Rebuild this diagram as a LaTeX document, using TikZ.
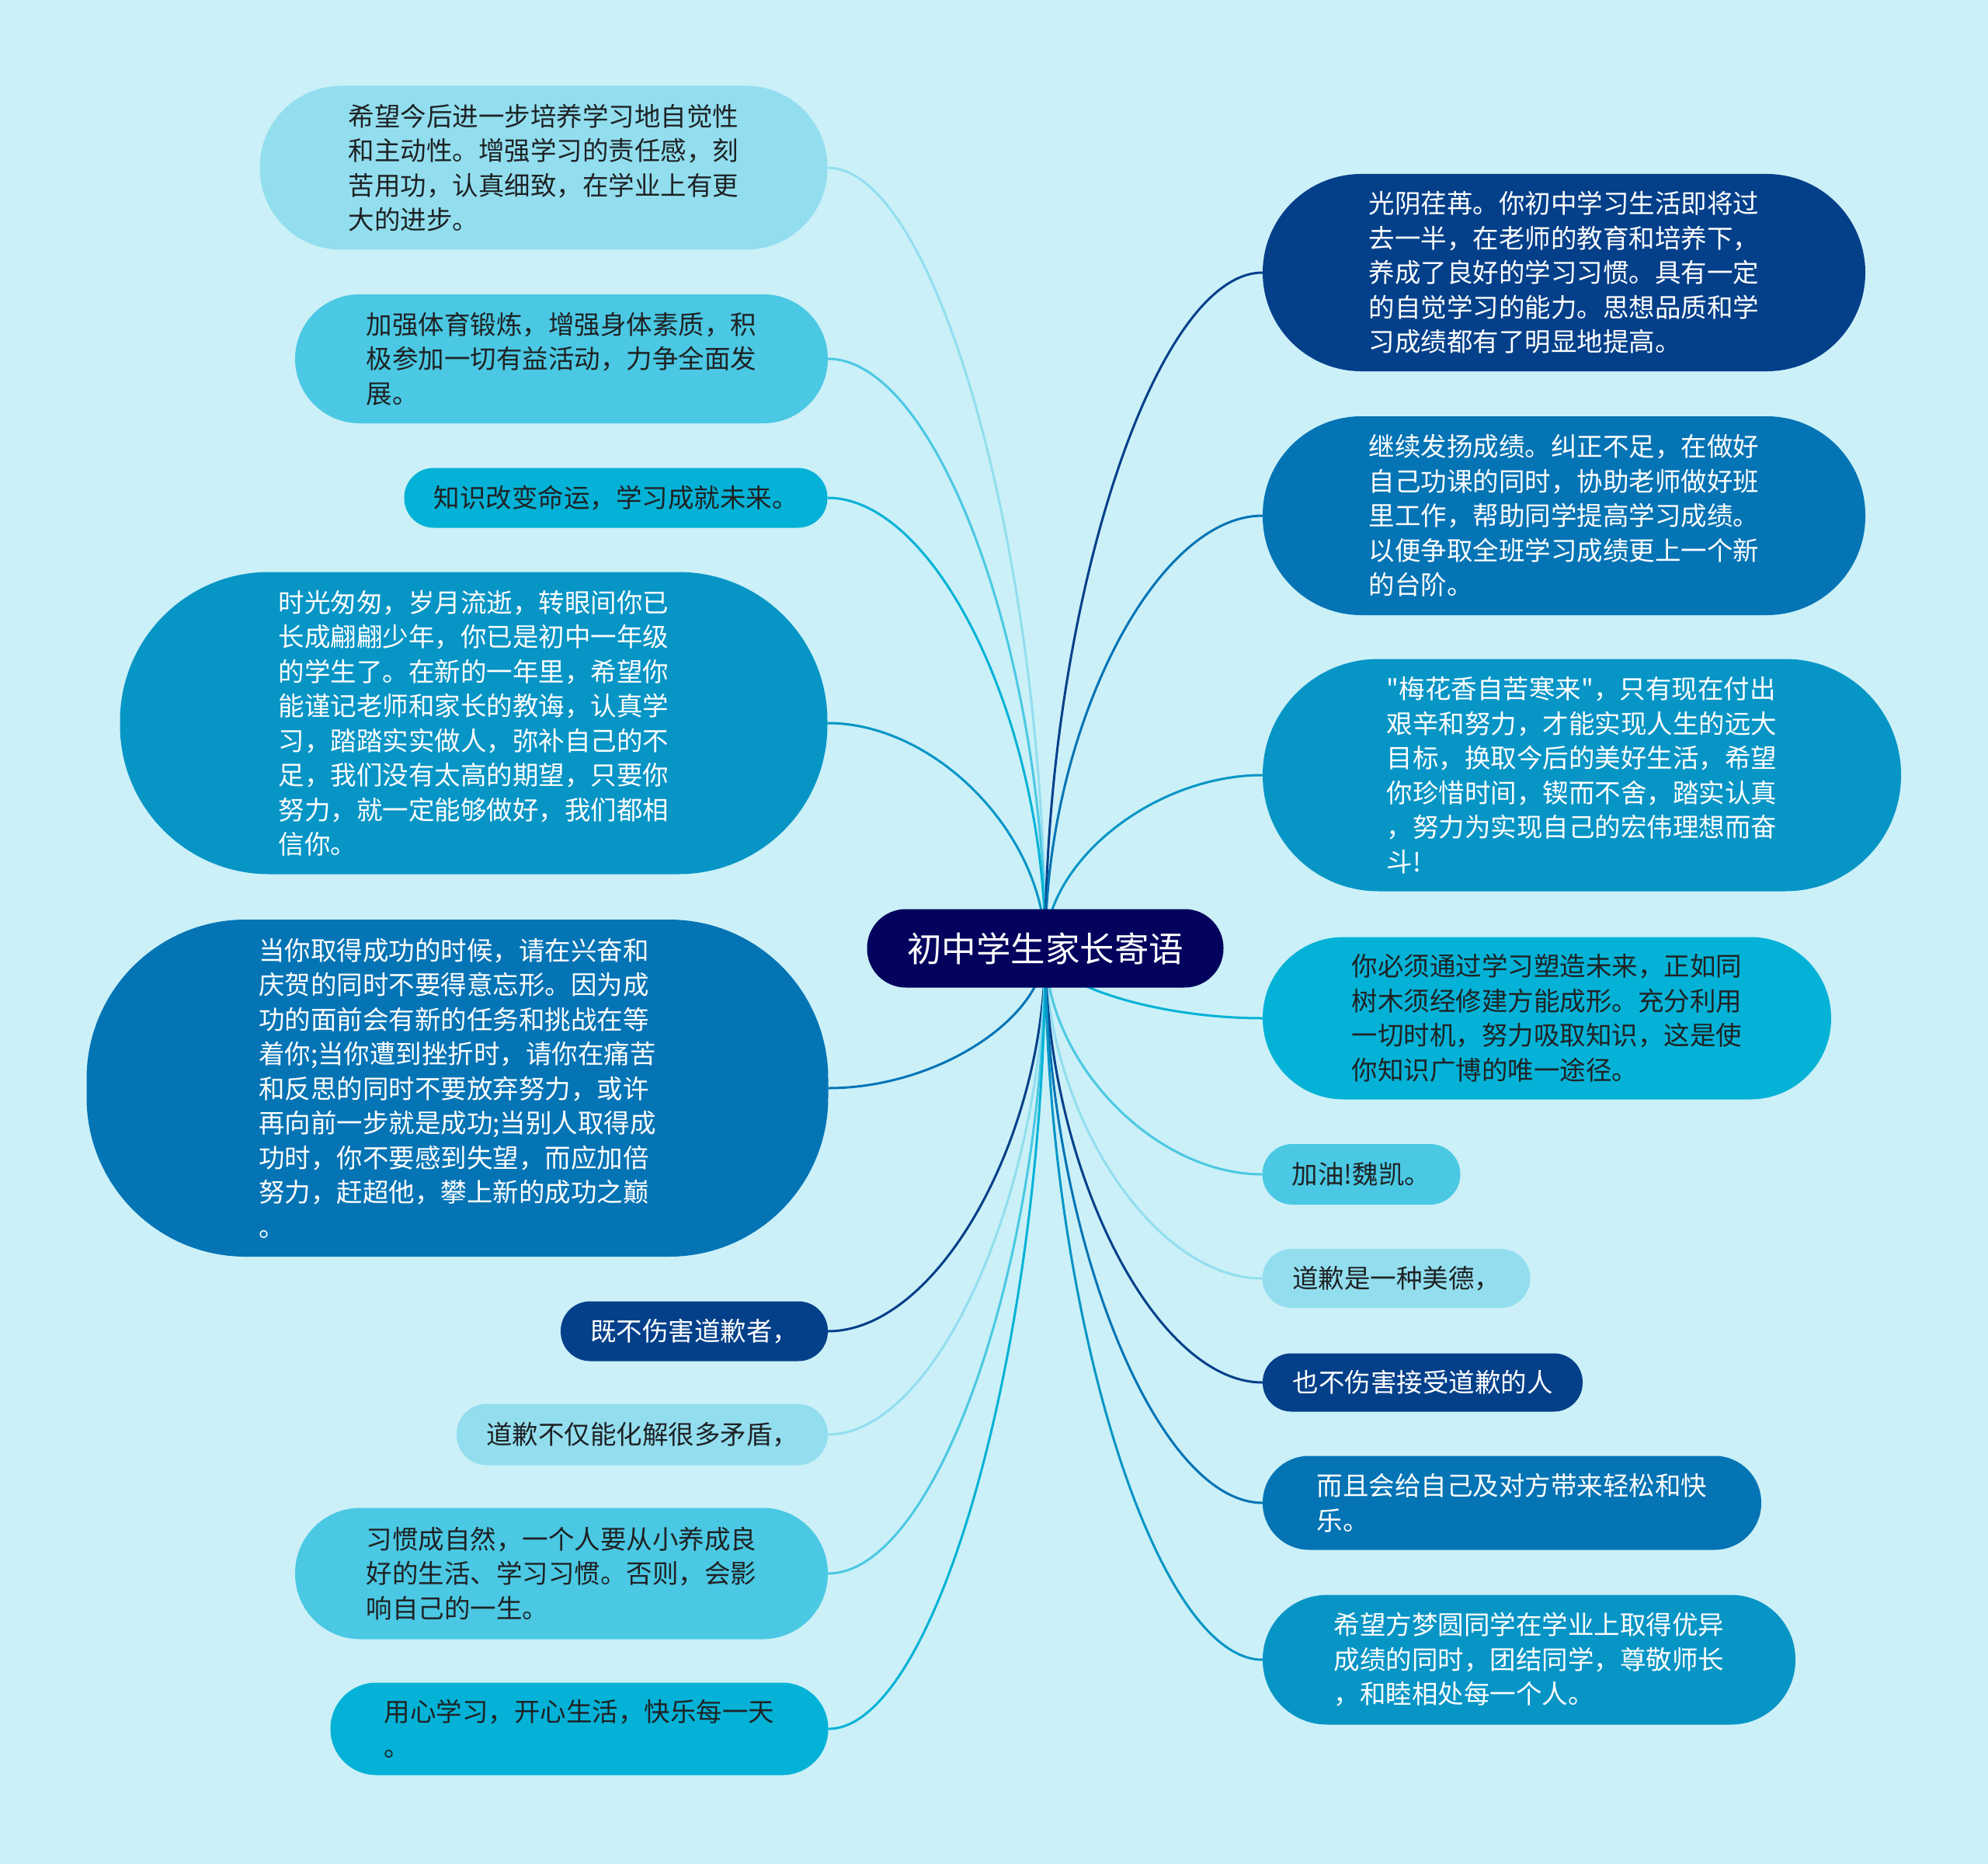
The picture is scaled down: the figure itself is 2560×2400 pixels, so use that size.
\documentclass[tikz,border=0pt]{standalone}
\usepackage{fontspec}
\setmainfont{Noto Sans CJK SC}[Ligatures=TeXOff]
\usetikzlibrary{backgrounds,calc}
\definecolor{bg}{RGB}{203,240,248}
\definecolor{c0}{RGB}{3,3,94}
\definecolor{cA}{RGB}{4,64,138}
\definecolor{cB}{RGB}{4,116,181}
\definecolor{cC}{RGB}{7,149,198}
\definecolor{cD}{RGB}{3,178,214}
\definecolor{cE}{RGB}{75,200,227}
\definecolor{cF}{RGB}{146,222,239}
\definecolor{tdark}{RGB}{30,34,36}
\newcommand\mmfont{\fontsize{33.5pt}{44.5pt}\selectfont}
\newcommand\mmconn[2]{\draw[line width=3pt,#1] let \p1=(c.center), \p2=(#2) in (\p1) .. controls (\x1,{0.5*(\y1)+0.5*(\y2)}) and ({0.5*(\x1)+0.5*(\x2)},\y2) .. (\p2);}
\begin{document}
\begin{tikzpicture}[x=1pt,y=1pt,
  box/.style={rectangle, inner sep=0pt, align=left, font=\mmfont},
  pill/.style n args={3}{minimum width=#1pt, minimum height=#2pt, rounded corners=#3pt},
  lt/.style={text=tdark},
  dk/.style={text=white}]
\useasboundingbox (0,0) rectangle (2560,-2400);
% center
\node[box, fill=c0, text=white, font=\fontsize{44.5pt}{50pt}\selectfont, pill={459}{101}{50}] (c) at (1346,-1221) {初中学生家长寄语};
% left
\node[box, fill=cF, lt, pill={731}{211}{105}] (l1) at (700,-216) {希望今后进一步培养学习地自觉性\\和主动性。增强学习的责任感，刻\\苦用功，认真细致，在学业上有更\\大的进步。};
\node[box, fill=cE, lt, pill={686}{166}{83}] (l2) at (723,-462) {加强体育锻炼，增强身体素质，积\\极参加一切有益活动，力争全面发\\展。};
\node[box, fill=cD, lt, pill={545}{77}{38}] (l3) at (793,-641) {知识改变命运，学习成就未来。};
\node[box, fill=cC, dk, pill={911}{389}{192}] (l4) at (610,-931) {时光匆匆，岁月流逝，转眼间你已\\长成翩翩少年，你已是初中一年级\\的学生了。在新的一年里，希望你\\能谨记老师和家长的教诲，认真学\\习，踏踏实实做人，弥补自己的不\\足，我们没有太高的期望，只要你\\努力，就一定能够做好，我们都相\\信你。};
\node[box, fill=cB, dk, pill={955}{434}{205}] (l5) at (589,-1401) {当你取得成功的时候，请在兴奋和\\庆贺的同时不要得意忘形。因为成\\功的面前会有新的任务和挑战在等\\着你;当你遭到挫折时，请你在痛苦\\和反思的同时不要放弃努力，或许\\再向前一步就是成功;当别人取得成\\功时，你不要感到失望，而应加倍\\努力，赶超他，攀上新的成功之巅\\。};
\node[box, fill=cA, dk, pill={344}{77}{38}] (l6) at (894,-1714) {既不伤害道歉者，};
\node[box, fill=cF, lt, pill={478}{79}{39}] (l7) at (827,-1847) {道歉不仅能化解很多矛盾，};
\node[box, fill=cE, lt, pill={686}{169}{84}] (l8) at (723,-2026) {习惯成自然，一个人要从小养成良\\好的生活、学习习惯。否则，会影\\响自己的一生。};
\node[box, fill=cD, lt, pill={641}{119}{59}] (l9) at (746,-2226) {用心学习，开心生活，快乐每一天\\。};
% right
\node[box, fill=cA, dk, pill={776}{254}{127}] (r1) at (2014,-351) {光阴荏苒。你初中学习生活即将过\\去一半，在老师的教育和培养下，\\养成了良好的学习习惯。具有一定\\的自觉学习的能力。思想品质和学\\习成绩都有了明显地提高。};
\node[box, fill=cB, dk, pill={776}{256}{127}] (r2) at (2014,-664) {继续发扬成绩。纠正不足，在做好\\自己功课的同时，协助老师做好班\\里工作，帮助同学提高学习成绩。\\以便争取全班学习成绩更上一个新\\的台阶。};
\node[box, fill=cC, dk, pill={822}{299}{149}] (r3) at (2037,-998) {"梅花香自苦寒来"，只有现在付出\\艰辛和努力，才能实现人生的远大\\目标，换取今后的美好生活，希望\\你珍惜时间，锲而不舍，踏实认真\\，努力为实现自己的宏伟理想而奋\\斗!};
\node[box, fill=cD, lt, pill={732}{209}{104}] (r4) at (1992,-1311) {你必须通过学习塑造未来，正如同\\树木须经修建方能成形。充分利用\\一切时机，努力吸取知识，这是使\\你知识广博的唯一途径。};
\node[box, fill=cE, lt, pill={255}{78}{39}] (r5) at (1753,-1512) {加油!魏凯。};
\node[box, fill=cF, lt, pill={345}{76}{38}] (r6) at (1798,-1646) {道歉是一种美德，};
\node[box, fill=cA, dk, pill={412}{75}{37}] (r7) at (1832,-1780) {也不伤害接受道歉的人};
\node[box, fill=cB, dk, pill={642}{121}{60}] (r8) at (1947,-1935) {而且会给自己及对方带来轻松和快\\乐。};
\node[box, fill=cC, dk, pill={686}{167}{83}] (r9) at (1969,-2137) {希望方梦圆同学在学业上取得优异\\成绩的同时，团结同学，尊敬师长\\，和睦相处每一个人。};
\begin{scope}[on background layer]
\fill[bg] (0,0) rectangle (2560,-2400);
\mmconn{cF}{l1.east}
\mmconn{cE}{l2.east}
\mmconn{cD}{l3.east}
\mmconn{cC}{l4.east}
\mmconn{cB}{l5.east}
\mmconn{cA}{l6.east}
\mmconn{cF}{l7.east}
\mmconn{cE}{l8.east}
\mmconn{cD}{l9.east}
\mmconn{cA}{r1.west}
\mmconn{cB}{r2.west}
\mmconn{cC}{r3.west}
\mmconn{cD}{r4.west}
\mmconn{cE}{r5.west}
\mmconn{cF}{r6.west}
\mmconn{cA}{r7.west}
\mmconn{cB}{r8.west}
\mmconn{cC}{r9.west}
\end{scope}
\end{tikzpicture}
\end{document}
